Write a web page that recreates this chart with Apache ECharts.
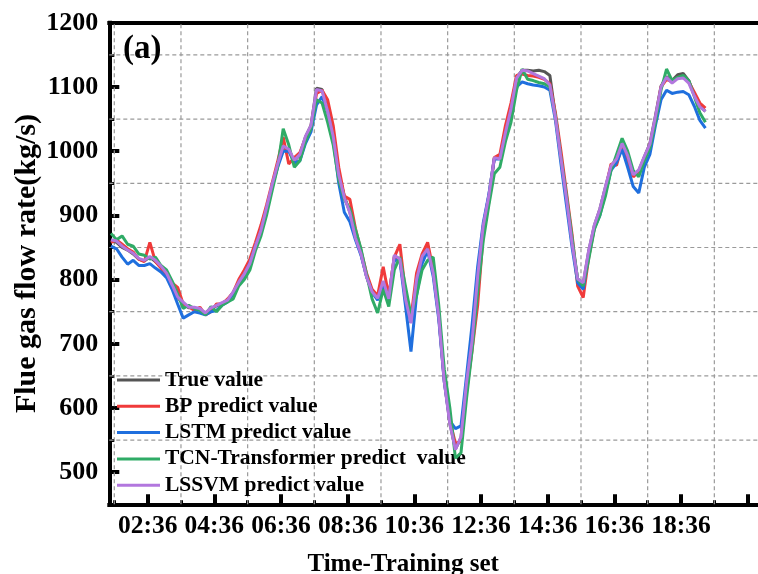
<!DOCTYPE html>
<html>
<head>
<meta charset="utf-8">
<script src="https://cdn.jsdelivr.net/npm/echarts@6/dist/echarts.min.js"></script>
<style>html,body{margin:0;padding:0;background:#fff;}#chart{width:758px;height:574px;}</style>
</head>
<body>
<div id="chart"></div>
<script>
// ---- data ----
const times = ("01:30 01:40 01:50 02:00 02:10 02:20 02:30 02:40 02:50 03:00 " +
  "03:10 03:20 03:30 03:40 03:50 04:00 04:10 04:20 04:30 04:40 " +
  "04:50 05:00 05:10 05:20 05:30 05:40 05:50 06:00 06:10 06:20 " +
  "06:30 06:40 06:50 07:00 07:10 07:20 07:30 07:40 07:50 08:00 " +
  "08:10 08:20 08:30 08:40 08:50 09:00 09:10 09:20 09:30 09:40 " +
  "09:50 10:00 10:10 10:20 10:30 10:40 10:50 11:00 11:10 11:20 " +
  "11:30 11:40 11:50 12:00 12:10 12:20 12:30 12:40 12:50 13:00 " +
  "13:10 13:20 13:30 13:40 13:50 14:00 14:10 14:20 14:30 14:40 " +
  "14:50 15:00 15:10 15:20 15:30 15:40 15:50 16:00 16:10 16:20 " +
  "16:30 16:40 16:50 17:00 17:10 17:20 17:30 17:40 17:50 18:00 " +
  "18:10 18:20 18:30 18:40 18:50 19:00 19:10 19:20").split(" ");

const trueValue = [860,858,850,846,840,832,829,835,828,820,
  808,790,772,763,756,756,753,748,755,759,
  763,768,780,795,808,824,850,876,910,946,
  980,1006,1002,985,994,1022,1040,1098,1096,1064,
  1025,965,930,905,866,840,805,782,770,797,
  771,836,832,771,733,798,835,848,812,743,
  642,576,536,554,638,704,803,883,930,990,
  989,1030,1067,1115,1126,1126,1125,1126,1124,1118,
  1055,989,925,857,801,794,845,884,910,944,
  976,988,1012,994,962,970,991,1012,1055,1101,
  1116,1110,1119,1121,1110,1088,1070,1062];

const bpValue = [858,862,855,848,843,832,828,858,828,818,
  806,795,788,762,758,752,757,745,750,762,
  762,770,780,800,815,832,858,885,916,950,
  984,1022,980,990,998,1020,1038,1090,1095,1080,
  1040,975,930,925,880,845,810,785,775,820,
  775,835,855,780,740,810,840,858,815,745,
  645,580,545,548,625,690,760,870,920,990,
  995,1040,1075,1118,1120,1118,1117,1115,1112,1105,
  1060,1000,935,870,790,772,835,880,905,940,
  980,978,1010,985,960,968,990,1010,1050,1100,
  1112,1108,1115,1115,1108,1092,1075,1067];

const lstmValue = [852,848,835,824,830,822,822,825,818,812,
  803,785,762,740,745,750,748,745,750,752,
  760,765,778,795,808,825,852,875,910,945,
  975,1000,1000,982,985,1012,1030,1072,1085,1062,
  1018,950,905,890,862,838,805,780,768,790,
  768,830,830,760,688,775,825,845,805,738,
  640,580,568,572,650,730,820,888,932,988,
  988,1025,1060,1100,1108,1105,1103,1102,1100,1095,
  1048,980,915,850,795,785,840,880,900,935,
  970,982,1003,975,945,935,975,995,1040,1080,
  1095,1090,1092,1093,1088,1070,1048,1036];

const tcnValue = [872,862,868,855,852,840,838,832,835,822,
  815,798,778,755,760,755,752,745,758,750,
  760,765,770,790,800,815,845,868,900,938,
  975,1035,1010,975,985,1015,1035,1080,1075,1045,
  1010,955,925,910,878,848,808,770,748,785,
  758,815,835,790,745,775,815,830,835,760,
  660,600,522,530,615,690,780,860,915,965,
  975,1015,1045,1095,1128,1112,1110,1107,1105,1100,
  1055,990,930,865,800,790,832,878,900,930,
  970,995,1020,1000,970,960,985,1005,1045,1095,
  1128,1110,1115,1118,1110,1085,1060,1045];

const lssvmValue = [862,860,852,846,841,833,830,836,830,821,
  810,792,773,765,757,757,755,748,756,760,
  764,768,781,796,809,825,852,877,912,948,
  980,1008,1003,986,995,1023,1040,1096,1094,1062,
  1023,963,928,904,865,840,804,781,771,798,
  770,838,832,770,732,800,836,848,810,742,
  640,575,535,555,640,705,805,884,930,990,
  988,1029,1066,1114,1126,1125,1121,1117,1113,1103,
  1052,988,925,856,801,795,846,885,910,945,
  977,988,1012,993,963,971,992,1011,1054,1100,
  1115,1106,1113,1114,1106,1086,1069,1062];

const seriesNames = ["True value","BP predict value","LSTM predict value","TCN-Transformer predict  value","LSSVM predict value"];
const seriesValues = [trueValue, bpValue, lstmValue, tcnValue, lssvmValue];
const seriesColors = ["#555555","#f03a3a","#1f6fde","#2fab66","#b277de"];

const xLabelTicks = ["02:36","04:36","06:36","08:36","10:36","12:36","14:36","16:36","18:36"];
const xMajorTicks = ["02:36","04:36","06:36","08:36","10:36","12:36","14:36","16:36","18:36","20:36"];
const xMinorTicks = ["01:36","03:36","05:36","07:36","09:36","11:36","13:36","15:36","17:36","19:36"];
const yMajorTicks = [500,600,700,800,900,1000,1100,1200];
const yMinorTicks = [550,650,750,850,950,1050,1150];

// ---- helpers ----
function toHours(s){ const p = s.split(":"); return (+p[0]) + (+p[1])/60; }
function fmt(h){ const m = Math.round(h*60); const hh = Math.floor(m/60), mm = m%60; return (hh<10?"0":"")+hh+":"+(mm<10?"0":"")+mm; }

const FONT = "'Liberation Serif','Times New Roman',serif";
const X_MIN = 1.45, X_MAX = 20.91, Y_MIN = 450, Y_MAX = 1200;

const chart = echarts.init(document.getElementById('chart'), null, {renderer:'canvas'});
const axisLineStyle = {color:'#000', width:4, cap:'square'};

// dashed grid lines at the minor tick positions (drawn through the axes' scales)
const gridStyle = {color:'#9a9a9a', width:1.2, type:[4,3], opacity:1};
const gridSeries = [];
xMinorTicks.forEach(t=>{
  const h = toHours(t);
  gridSeries.push({type:'line', name:'_gx'+t, silent:true, symbol:'none', showSymbol:false, z:1, animation:false,
    clip:false, lineStyle:gridStyle, itemStyle:{color:'#9a9a9a'}, emphasis:{disabled:true}, data:[[h,Y_MIN],[h,Y_MAX]]});
});
yMinorTicks.forEach(v=>{
  gridSeries.push({type:'line', name:'_gy'+v, silent:true, symbol:'none', showSymbol:false, z:1, animation:false,
    clip:false, lineStyle:gridStyle, itemStyle:{color:'#9a9a9a'}, emphasis:{disabled:true}, data:[[X_MIN,v],[X_MAX,v]]});
});

const option = {
  animation:false,
  backgroundColor:'#fff',
  grid:{left:109.3, right:0, top:22.8, bottom:69.7, containLabel:false, outerBoundsMode:'none'},
  graphic:[{type:'text', left:123, top:33, z:100, style:{text:'(a)', font:"bold 33px "+FONT, fill:'#000'}}],
  legend:{
    orient:'vertical', left:117, top:369, padding:0, itemWidth:43, itemHeight:3, itemGap:4.3,
    icon:'rect',
    textStyle:{fontFamily:FONT, fontWeight:'bold', fontSize:21.5, color:'#000'},
    data:seriesNames
  },
  xAxis:[
    {type:'value', min:X_MIN, max:X_MAX, position:'bottom',
     name:'Time-Training set', nameLocation:'middle', nameGap:48, nameMoveOverlap:false,
     nameTextStyle:{fontFamily:FONT, fontWeight:'bold', fontSize:25, color:'#000', padding:[0,61,0,0]},
     axisLine:{show:true, lineStyle:axisLineStyle},
     axisTick:{show:true, inside:true, length:10, lineStyle:{color:'#000', width:4}, customValues:xMajorTicks.map(toHours)},
     axisLabel:{show:true, margin:9, customValues:xLabelTicks.map(toHours), formatter:fmt,
       fontFamily:FONT, fontWeight:'bold', fontSize:25.5, color:'#000'},
     splitLine:{show:false}},
    {type:'value', min:X_MIN, max:X_MAX, position:'bottom',
     axisLine:{show:false},
     axisTick:{show:true, inside:true, length:4, lineStyle:{color:'#000', width:3}, customValues:xMinorTicks.map(toHours)},
     axisLabel:{show:false},
     splitLine:{show:false}},
    {type:'value', min:X_MIN, max:X_MAX, position:'top',
     axisLine:{show:true, lineStyle:axisLineStyle},
     axisTick:{show:false}, axisLabel:{show:false}, splitLine:{show:false}}
  ],
  yAxis:[
    {type:'value', min:Y_MIN, max:Y_MAX, position:'left',
     name:'Flue gas flow rate(kg/s)', nameLocation:'middle', nameGap:67, nameMoveOverlap:false,
     nameTextStyle:{fontFamily:FONT, fontWeight:'bold', fontSize:30, color:'#000'},
     axisLine:{show:true, lineStyle:axisLineStyle},
     axisTick:{show:true, inside:true, length:10, lineStyle:{color:'#000', width:4}, customValues:yMajorTicks},
     axisLabel:{show:true, margin:11, customValues:yMajorTicks, formatter:v=>String(v),
       fontFamily:FONT, fontWeight:'bold', fontSize:26, color:'#000'},
     splitLine:{show:false}},
    {type:'value', min:Y_MIN, max:Y_MAX, position:'left',
     axisLine:{show:false},
     axisTick:{show:true, inside:true, length:5, lineStyle:{color:'#000', width:3}, customValues:yMinorTicks},
     axisLabel:{show:false},
     splitLine:{show:false}}
  ],
  series: gridSeries.concat(seriesNames.map((name,i)=>({
    name:name, type:'line', xAxisIndex:0, yAxisIndex:0,
    symbol:'none', showSymbol:false, smooth:false,
    lineStyle:{color:seriesColors[i], width:3},
    itemStyle:{color:seriesColors[i]},
    z:2+i,
    data: times.map((t,k)=>[toHours(t), seriesValues[i][k]])
  })))
};
chart.setOption(option);
</script>
</body>
</html>
